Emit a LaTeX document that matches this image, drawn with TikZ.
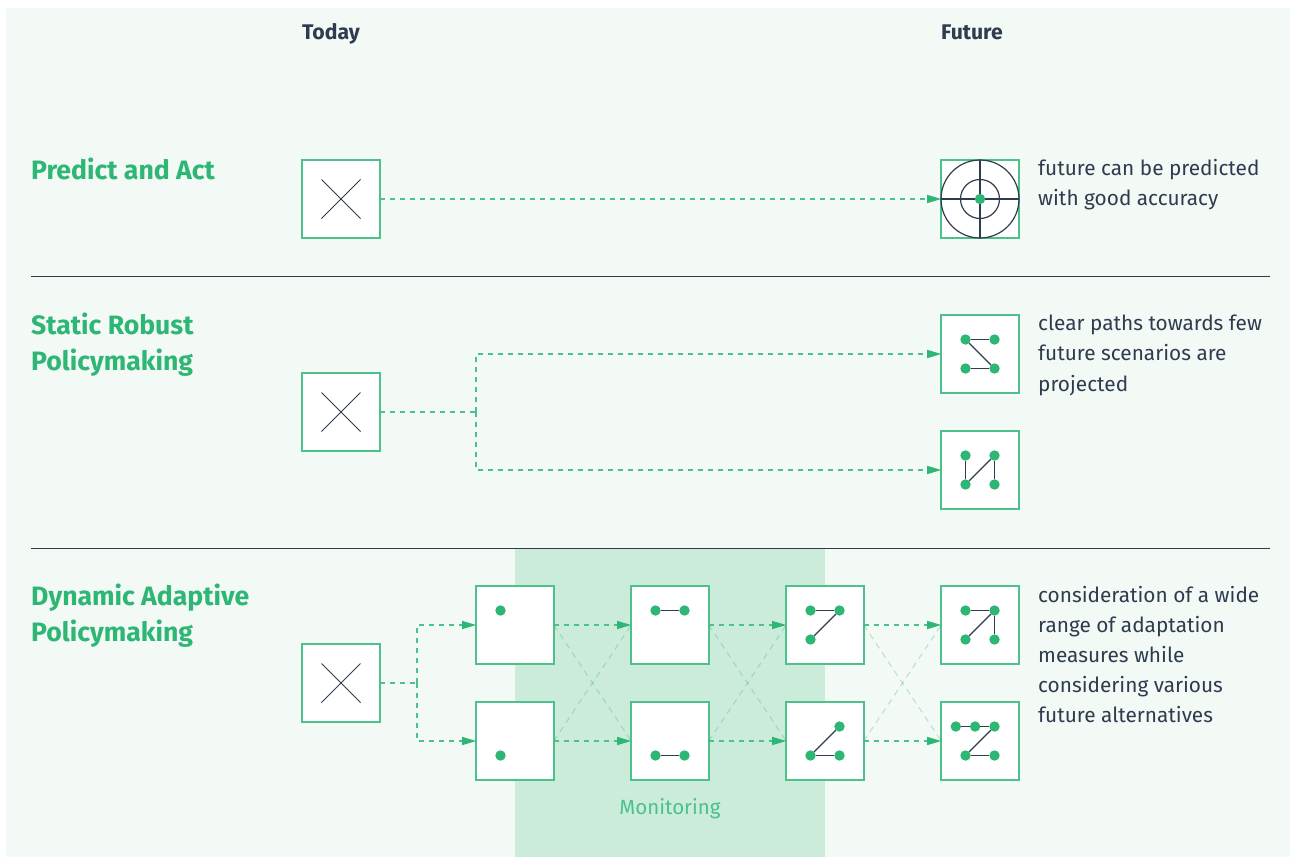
\documentclass[tikz,border=0pt]{standalone}
\usepackage{fontspec}
\setmainfont{Fira Sans}
\usetikzlibrary{arrows.meta}
\definecolor{panel}{HTML}{F3F9F5}
\definecolor{band}{HTML}{CBEBDB}
\definecolor{grn}{HTML}{2DB674}
\definecolor{ink}{HTML}{2F3B4E}
\tikzset{
  x=1pt,y=-1pt,
  boxn/.style={draw=grn!85!white,fill=white,line width=1.5pt,minimum size=77.6pt,inner sep=0pt,outer sep=0pt},
  dotn/.style={circle,fill=grn,minimum size=10.4pt,inner sep=0pt,outer sep=0pt},
  link/.style={draw=ink,line width=1.3pt},
  flow/.style={draw=grn!85!white,line width=1.2pt,dash pattern=on 5pt off 5pt},
  tipped/.style={-{Triangle[length=14pt,width=8pt,color=grn,fill=grn]}},
  fade/.style={draw=grn,opacity=.3,line width=1.1pt,dash pattern=on 6pt off 5pt},
  rule/.style={draw=ink,line width=.9pt},
  head/.style={anchor=base west,font=\fontsize{21.2}{25}\selectfont\bfseries,text=ink,inner sep=0pt},
  title/.style={anchor=base west,font=\fontsize{26.6}{32}\selectfont\bfseries,text=grn,inner sep=0pt},
  note/.style={anchor=base west,font=\fontsize{20.8}{25}\selectfont,text=ink,inner sep=0pt},
  mon/.style={anchor=base,font=\fontsize{20.5}{25}\selectfont,text=grn!85!white,inner sep=0pt},
  cross/.style={draw=ink,line width=.9pt},
}
\begin{document}
\begin{tikzpicture}
\useasboundingbox (0,0) rectangle (1290,857);
\fill[white] (0,0) rectangle (1290,857);
\fill[panel] (6,8) rectangle (1290,857);
\fill[band] (515,548) rectangle (825,857);
\coordinate (r1a) at (31,276); \coordinate (r1b) at (1270,276);
\coordinate (r2a) at (31,548); \coordinate (r2b) at (1270,548);
\draw[rule] (r1a) -- (r1b);
\draw[rule] (r2a) -- (r2b);

% text
\node[head] (tToday) at (302,39) {Today};
\node[head] (tFuture) at (941,39) {Future};
\node[title] (t1) at (31,179) {Predict and Act};
\node[title] (t2a) at (31,334) {Static Robust};
\node[title] (t2b) at (31,370) {Policymaking};
\node[title] (t3a) at (31,605) {Dynamic Adaptive};
\node[title] (t3b) at (31,641) {Policymaking};
\node[note] (n1a) at (1038,175) {future can be predicted};
\node[note] (n1b) at (1038,205) {with good accuracy};
\node[note] (n2a) at (1038,330) {clear paths towards few};
\node[note] (n2b) at (1038,360) {future scenarios are};
\node[note] (n2c) at (1038,391) {projected};
\node[note] (n3a) at (1038,602) {consideration of a wide};
\node[note] (n3b) at (1038,632) {range of adaptation};
\node[note] (n3c) at (1038,662) {measures while};
\node[note] (n3d) at (1038,692) {considering various};
\node[note] (n3e) at (1038,722) {future alternatives};
\node[mon] (monl) at (670,814) {Monitoring};

% boxes
\foreach \n/\x/\y in {A0/341/199,A1/980/199,B0/341/412,B1/980/354,B2/980/470,
  C0/341/683,C1/515/625,C2/515/741,D1/670/625,D2/670/741,E1/825/625,E2/825/741,F1/980/625,F2/980/741}
  \node[boxn] (\n) at (\x,\y) {};

% junctions
\coordinate (jB) at (476,412);
\coordinate (jC) at (417,683);

% connectors
\draw[flow,tipped] (A0.east) -- (A1.west);
\draw[flow] (B0.east) -- (jB);
\draw[flow,tipped] (jB) |- (B1.west);
\draw[flow,tipped] (jB) |- (B2.west);
\draw[flow] (C0.east) -- (jC);
\draw[flow,tipped] (jC) |- (C1.west);
\draw[flow,tipped] (jC) |- (C2.west);
\foreach \a/\b in {C1/D1,C2/D2,D1/E1,D2/E2,E1/F1,E2/F2}
  \draw[flow,tipped] (\a.east) -- (\b.west);
\foreach \a/\b in {C1/D2,C2/D1,D1/E2,D2/E1,E1/F2,E2/F1}
  \draw[fade] (\a.east) -- (\b.west);

% today crosses
\foreach \b in {A0,B0,C0}{
  \coordinate (\b nw) at ([shift={(-19.5,-19.5)}]\b.center);
  \coordinate (\b se) at ([shift={(19.5,19.5)}]\b.center);
  \coordinate (\b ne) at ([shift={(19.5,-19.5)}]\b.center);
  \coordinate (\b sw) at ([shift={(-19.5,19.5)}]\b.center);
  \draw[cross] (\b nw) -- (\b se);
  \draw[cross] (\b ne) -- (\b sw);
}

% target
\node[circle,draw=ink,line width=1.2pt,minimum size=78pt,inner sep=0pt,outer sep=0pt] (tgO) at (A1) {};
\node[circle,draw=ink,line width=1.2pt,minimum size=39pt,inner sep=0pt,outer sep=0pt] (tgI) at (A1) {};
\draw[draw=ink,line width=1.1pt] (tgO.west) -- (tgO.east);
\draw[draw=ink,line width=1.1pt] (tgO.north) -- (tgO.south);
\node[dotn] (tgD) at (A1) {};

% dots
\foreach \n/\x/\y in {
  b1a/965.5/339.5,b1b/994.5/339.5,b1c/965.5/368.5,b1d/994.5/368.5,
  b2a/965.5/455.5,b2b/994.5/455.5,b2c/965.5/484.5,b2d/994.5/484.5,
  c1a/500.5/610.5,c2a/500.5/755.5,
  d1a/655.5/610.5,d1b/684.5/610.5,d2a/655.5/755.5,d2b/684.5/755.5,
  e1a/810.5/610.5,e1b/839.5/610.5,e1c/810.5/639.5,
  e2a/839.5/726.5,e2b/810.5/755.5,e2c/839.5/755.5,
  f1a/965.5/610.5,f1b/994.5/610.5,f1c/965.5/639.5,f1d/994.5/639.5,
  f2a/955.8/726.5,f2b/975.1/726.5,f2c/994.5/726.5,f2d/965.5/755.5,f2e/994.5/755.5}
  \node[dotn] (\n) at (\x,\y) {};

% dot links
\foreach \a/\b in {b1a/b1b,b1a/b1d,b1c/b1d,b2a/b2c,b2c/b2b,b2b/b2d,
  d1a/d1b,d2a/d2b,e1a/e1b,e1b/e1c,e2a/e2b,e2b/e2c,
  f1a/f1b,f1b/f1c,f1b/f1d,f2a/f2b,f2b/f2c,f2c/f2d,f2d/f2e}
  \draw[link] (\a) -- (\b);
\end{tikzpicture}
\end{document}
